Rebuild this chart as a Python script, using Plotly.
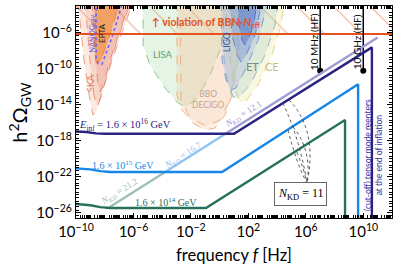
import numpy as np
import plotly.graph_objects as go

# ---------------- data (log10 f [Hz], log10 h^2 Omega_GW) ----------------
inf16_logf = [-10, -9.3, -8.6, -8.0, 1.0, 10.6, 10.6]
inf16_logo = [-16.95, -17.0, -17.15, -17.2, -17.2, -7.6, -30]
inf15_logf = [-10, -9.0, -8.3, -7.6, 0.17, 9.64, 9.64]
inf15_logo = [-21.05, -21.15, -21.35, -21.45, -21.45, -11.7, -30]
inf14_logf = [-10, -9.0, -8.3, -7.6, -0.95, 8.73, 8.73]
inf14_logo = [-25.0, -25.15, -25.35, -25.45, -25.45, -15.67, -30]

kd_logf = [-7.7, -3.79, 0.41, 11.0]
kd_logo = [-25.4, -21.45, -17.2, -6.5]
kd_labels = ["21.2", "16.7", "12.1"]

bbn_logo = -6.1
hf_logf = [7.0, 10.0]
hf_labels = ["10 MHz (HF)", "10 GHz (HF)"]
hf_logo = -10.2

ska1_logf = [-9.86, -9.44, -9.03, -8.82, -8.61, -8.12, -7.49, -6.80, -6.03]
ska1_logo = [-2.5, -9.0, -13.44, -15.11, -14.78, -12.33, -9.0, -6.0, -2.5]
ska2_logf = [-9.37, -9.03, -8.75, -8.54, -8.33, -7.84, -7.14, -6.17]
ska2_logo = [-2.5, -9.0, -12.89, -14.0, -13.44, -10.67, -6.78, -2.5]
ska3_logf = [-8.89, -8.68, -8.47, -8.33, -8.12, -7.63, -6.94, -6.24]
ska3_logo = [-2.5, -7.89, -11.78, -12.56, -11.78, -9.0, -5.67, -2.5]
epta_logf = [-8.68, -8.68, -8.6, -8.45, -8.3, -7.6, -6.94]
epta_logo = [-2.5, -8.5, -9.1, -9.35, -9.2, -6.0, -2.5]
nano_logf = [-8.6, -8.6, -8.45, -8.2, -7.5, -6.73]
nano_logo = [-2.5, -8.9, -9.4, -9.5, -6.5, -2.5]
lisa_logf = [-5.33, -5.33, -4.85, -3.80, -2.90, -2.34, -1.71, -0.81, 0.03, 0.45, 0.58]
lisa_logo = [-2.5, -7.33, -9.56, -12.11, -13.78, -14.22, -13.44, -11.22, -7.89, -4.56, -2.5]
bbo_logf = [-2.97, -2.97, -2.62, -1.85, -1.02, -0.32, 0.38, 0.86, 1.28, 1.56]
bbo_logo = [-2.5, -12.89, -14.56, -16.0, -16.78, -16.56, -15.11, -12.89, -9.0, -2.5]
decigo_logf = [-2.76, -2.69, -2.06, -0.95, 0.03, 0.72, 1.14, 1.42]
decigo_logo = [-2.5, -13.44, -15.44, -16.33, -15.67, -13.44, -9.0, -2.5]
et_logf = [0.24, 0.31, 0.58, 0.93, 1.28, 2.12, 3.16, 3.86, 4.07]
et_logo = [-2.5, -9.0, -11.78, -13.11, -13.22, -11.78, -8.44, -5.11, -2.5]
ce_logf = [0.65, 0.72, 1.0, 1.42, 1.84, 2.67, 3.65, 4.28, 4.48]
ce_logo = [-2.5, -9.0, -12.11, -13.67, -13.56, -11.78, -8.44, -5.11, -2.5]
ligo1_logf = [0.10, 0.17, 0.45, 0.79, 1.14, 1.77, 2.67, 3.37]
ligo1_logo = [-2.5, -9.0, -11.22, -12.33, -12.11, -10.11, -6.78, -2.5]
ligo2_logf = [0.72, 0.86, 1.21, 1.49, 1.84, 2.47, 2.95]
ligo2_logo = [-2.5, -6.22, -8.44, -9.22, -8.44, -6.22, -2.5]
ligo3_logf = [1.28, 1.35, 1.56, 1.77, 2.05, 2.40, 2.60]
ligo3_logo = [-2.5, -5.11, -6.78, -7.33, -6.56, -4.78, -2.5]

x_label_exp = [-10, -6, -2, 2, 6, 10]
y_label_exp = [-26, -22, -18, -14, -10, -6]

# ---------------- styling ----------------
NAVY = "#2b2380"
BLUE = "#1686e8"
TEAL = "#27705c"
KD_COLORS = ["#9cc1b4", "#8fc3f2", "#a09bd3"]
RED = "#e4521f"
SANS = "Lato, 'Open Sans', sans-serif"
SERIF = "'Liberation Serif', 'DejaVu Serif', serif"


def P(v):
    return [10.0 ** a for a in v]


fig = go.Figure()

# BBN hatched region
fig.add_trace(go.Scatter(
    x=P([-10, 12, 12, -10]), y=P([bbn_logo, bbn_logo, -2, -2]),
    fill="toself", mode="none", fillcolor="rgba(0,0,0,0)",
    fillpattern=dict(shape="\\", fgcolor=RED, bgcolor="rgba(255,255,255,0)",
                     size=26, solidity=0.04),
    hoverinfo="skip", showlegend=False))


def region(lf, lo, fill, line, dash="dash", width=1):
    fig.add_trace(go.Scatter(x=P(lf), y=P(lo), fill="toself", fillcolor=fill,
                             mode="lines", line=dict(color=line, width=width, dash=dash),
                             hoverinfo="skip", showlegend=False))


region(ska1_logf, ska1_logo, "rgba(240,170,140,0.25)", "rgba(225,120,90,0.7)")
region(ska2_logf, ska2_logo, "rgba(238,150,125,0.22)", "rgba(225,120,90,0.7)")
region(ska3_logf, ska3_logo, "rgba(232,125,105,0.22)", "rgba(225,110,90,0.7)")
region(epta_logf, epta_logo, "rgba(240,140,50,0.62)", "rgba(235,125,40,0.9)")
region(nano_logf, nano_logo, "rgba(0,0,0,0)", "rgb(110,100,240)", dash="dot", width=1.6)
region(lisa_logf, lisa_logo, "rgba(160,215,160,0.28)", "rgba(110,185,110,0.8)")
region(bbo_logf, bbo_logo, "rgba(246,195,155,0.28)", "rgba(235,160,110,0.8)")
region(decigo_logf, decigo_logo, "rgba(246,195,155,0.15)", "rgba(235,160,110,0.8)")
region(ce_logf, ce_logo, "rgba(236,230,150,0.30)", "rgba(215,205,100,0.8)")
region(et_logf, et_logo, "rgba(165,198,198,0.28)", "rgba(120,170,185,0.75)")
region(ligo1_logf, ligo1_logo, "rgba(150,180,230,0.30)", "rgba(100,140,210,0.8)")
region(ligo2_logf, ligo2_logo, "rgba(90,130,210,0.32)", "rgba(80,120,200,0.8)")
region(ligo3_logf, ligo3_logo, "rgba(60,95,195,0.38)", "rgba(60,95,195,0.8)")

# BBN line
fig.add_trace(go.Scatter(x=P([-10, 12]), y=P([bbn_logo, bbn_logo]), mode="lines",
                         line=dict(color=RED, width=2), hoverinfo="skip", showlegend=False))

# HF markers
for lf in hf_logf:
    fig.add_trace(go.Scatter(x=P([lf, lf]), y=P([hf_logo, -2]), mode="lines",
                             line=dict(color="black", width=1.5),
                             hoverinfo="skip", showlegend=False))
    fig.add_trace(go.Scatter(x=P([lf]), y=P([hf_logo]), mode="markers",
                             marker=dict(color="black", size=6),
                             hoverinfo="skip", showlegend=False))

# kination light line segments
for i in range(3):
    fig.add_trace(go.Scatter(x=P(kd_logf[i:i + 2]), y=P(kd_logo[i:i + 2]), mode="lines",
                             line=dict(color=KD_COLORS[i], width=2.4),
                             hoverinfo="skip", showlegend=False))

# spectra
for lf, lo, c in [(inf14_logf, inf14_logo, TEAL), (inf15_logf, inf15_logo, BLUE),
                  (inf16_logf, inf16_logo, NAVY)]:
    fig.add_trace(go.Scatter(x=P(lf), y=P(lo), mode="lines",
                             line=dict(color=c, width=2.4),
                             hoverinfo="skip", showlegend=False))

ann = []


def A(text, x, y, size, color, family=SANS, angle=0, **kw):
    ann.append(dict(text=text, x=x, y=y, xref="x", yref="y", showarrow=False,
                    font=dict(size=size, color=color, family=family),
                    textangle=angle, **kw))


A("<b>↑ violation of BBN-<i>N</i><sub>eff</sub></b>", -0.95, -4.9, 10.5, RED)
A("NANOGrav", -8.82, -6.1, 7.5, "#6e62e6", angle=-90)
A("EPTA", -8.19, -6.0, 8, "#222222", angle=-90)
A("SKA", -9.03, -11.56, 9, "#de7e62", angle=-90)
A("LISA", -3.94, -8.44, 9.5, "#5f9f6a")
A("BBO<br>DECIGO", -0.8, -13.35, 8.5, "#c3a48c")
A("LIGO", 0.52, -7.0, 8.5, "#34529e", angle=-90)
A("ET", 2.26, -9.67, 11, "#6f8c8e")
A("CE", 3.65, -9.67, 11, "#c8c07a")
for lf, t in zip(hf_logf, hf_labels):
    A(t, lf, -7.0, 10, "black", angle=-90, xshift=-6)
A("<i>E</i><sub>inf</sub> = 1.6 × 10<sup>16</sup> GeV", -6.59, -16.22, 10.5, NAVY, family=SERIF)
A("1.6 × 10<sup>15</sup> GeV", -6.73, -20.67, 10, BLUE, family=SERIF)
A("1.6 × 10<sup>14</sup> GeV", -3.73, -24.78, 10, TEAL, family=SERIF)
A("<i>N</i><sub>KD</sub> = " + kd_labels[0], -6.94, -23.67, 9, KD_COLORS[0], family=SERIF, angle=-32)
A("<i>N</i><sub>KD</sub> = " + kd_labels[1], -2.55, -19.56, 9, KD_COLORS[1], family=SERIF, angle=-32)
A("<i>N</i><sub>KD</sub> = " + kd_labels[2], 1.63, -15.11, 9, KD_COLORS[2], family=SERIF, angle=-32)
A("<i>N</i><sub>KD</sub> = 11", 5.6, -23.89, 12, "black", family=SERIF,
  bordercolor="#666666", borderwidth=1, bgcolor="white", borderpad=3)
A("(cut-off) tensor mode reenters<br>at the end of inflation", 10.68, -19.56, 8.5, "#3b2d9b",
  angle=-90)

# y-axis title placed explicitly
ann.append(dict(text="h<sup>2</sup>Ω<sub>GW</sub>", x=-0.178, y=0.5, xref="paper", yref="paper",
                showarrow=False, textangle=-90, xanchor="center", yanchor="middle",
                font=dict(size=20, color="black", family=SANS)))

# dotted leader curves (paper coords)
shapes = []
C = (0.731, 0.165)
for (tx, ty, cx, cy) in [(0.674, 0.557, 0.766, 0.415), (0.655, 0.542, 0.709, 0.368),
                         (0.687, 0.429, 0.747, 0.321), (0.671, 0.415, 0.699, 0.25),
                         (0.699, 0.311, 0.722, 0.227)]:
    shapes.append(dict(type="path", xref="paper", yref="paper",
                       path=f"M {tx},{ty} Q {cx},{cy} {C[0]},{C[1]}",
                       line=dict(color="#555555", width=1, dash="dot")))


def sup(e):
    return "10<sup>" + ("−" + str(-e) if e < 0 else str(e)) + "</sup>"


fig.update_layout(
    width=399, height=279, margin=dict(l=76, r=7, t=6, b=61, autoexpand=False),
    paper_bgcolor="white", plot_bgcolor="white", showlegend=False,
    annotations=ann, shapes=shapes,
    font=dict(family=SANS, color="black"),
    xaxis=dict(type="log", range=[-10, 12], automargin=False,
               tickvals=P(x_label_exp), ticktext=[sup(e) for e in x_label_exp],
               ticks="inside", ticklen=5, tickwidth=1, tickcolor="black",
               minor=dict(ticks="inside", ticklen=2.5, tickcolor="black", dtick="D1"),
               showline=True, linecolor="black", linewidth=1.2, mirror="ticks",
               showgrid=False, zeroline=False, tickfont=dict(size=15),
               title=dict(text="frequency <i>f</i> [Hz]", font=dict(size=16.5), standoff=10)),
    yaxis=dict(type="log", range=[-26.56, -3], automargin=False,
               tickvals=P(y_label_exp), ticktext=[sup(e) for e in y_label_exp],
               ticks="inside", ticklen=5, tickwidth=1, tickcolor="black",
               minor=dict(ticks="inside", ticklen=2.5, tickcolor="black", dtick="D2"),
               showline=True, linecolor="black", linewidth=1.2, mirror="ticks",
               showgrid=False, zeroline=False, tickfont=dict(size=15)),
)

fig.write_html("out.html", config={"displayModeBar": False},
               post_script="document.body.style.margin='0';document.body.style.overflow='hidden';")
